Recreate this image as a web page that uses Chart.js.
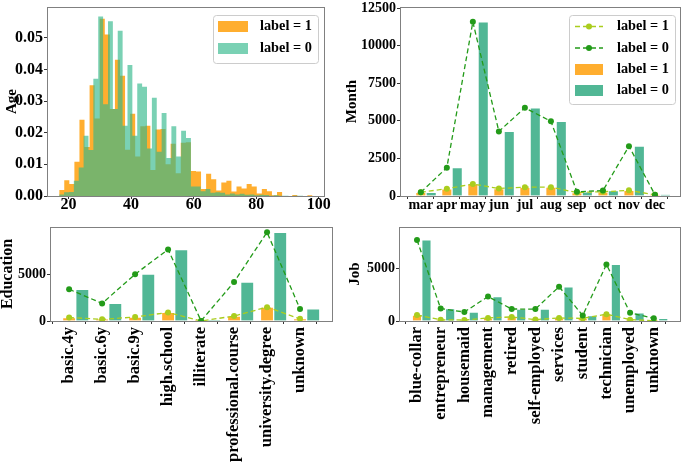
<!DOCTYPE html>
<html>
<head>
<meta charset="utf-8">
<script src="https://cdn.jsdelivr.net/npm/chart.js@4.4.1/dist/chart.umd.min.js"></script>
<style>
  html, body { margin: 0; padding: 0; background: #fff; }
  #wrap { position: relative; width: 685px; height: 466px; }
  #wrap canvas { position: absolute; }
</style>
</head>
<body>
<div id="wrap">
  <canvas id="chartAge" width="340" height="220" style="left:0;top:0"></canvas>
  <canvas id="chartMonth" width="345" height="220" style="left:340px;top:0"></canvas>
  <canvas id="chartEducation" width="340" height="246" style="left:0;top:220px"></canvas>
  <canvas id="chartJob" width="345" height="246" style="left:340px;top:220px"></canvas>
</div>
<script>
// age histogram (density, 50 bins per label)
const ageBinStart = 17;
const ageBinWidthYes = 1.62;   // label = 1 covers 17..98
const ageBinWidthNo = 1.56;    // label = 0 covers 17..95
const ageDensityYes = [
  0.0019, 0.0050, 0.0038, 0.0108, 0.0241, 0.0155, 0.0350, 0.0245, 0.0560, 0.0510,
  0.0275, 0.0430, 0.0380, 0.0146, 0.0260, 0.0125, 0.0220, 0.0222, 0.0082, 0.0210,
  0.0212, 0.0100, 0.0165, 0.0072, 0.0168, 0.0170, 0.0079, 0.0077, 0.0022, 0.0070,
  0.0053, 0.0017, 0.0043, 0.0048, 0.0014, 0.0030, 0.0024, 0.0038, 0.0030, 0.0008,
  0.0022, 0.0015, 0.0002, 0.0013, 0, 0, 0.0003, 0, 0, 0.0002
];
const ageDensityNo = [
  0.0005, 0.0012, 0.0013, 0.0048, 0.0090, 0.0190, 0.0145, 0.0370, 0.0567, 0.0290,
  0.0552, 0.0275, 0.0522, 0.0222, 0.0414, 0.0190, 0.0355, 0.0345, 0.0150, 0.0310,
  0.0140, 0.0262, 0.0120, 0.0220, 0.0125, 0.0206, 0.0183, 0.0030, 0.0030, 0.0015,
  0.0022, 0.0010, 0.0012, 0.0010, 0.0005, 0.0008, 0.0005, 0.0007, 0.0004, 0.0005,
  0.0002, 0.0004, 0.0003, 0.0001, 0.0002, 0.0001, 0.0001, 0, 0.0001, 0.0001
];
const ageTicks = [20, 40, 60, 80, 100];
const densityTicks = [0, 0.01, 0.02, 0.03, 0.04, 0.05];

// month counts
const months = ["mar", "apr", "may", "jun", "jul", "aug", "sep", "oct", "nov", "dec"];
const monthYes = [250, 485, 800, 500, 585, 590, 230, 285, 375, 80];
const monthNo = [245, 1885, 11590, 4300, 5870, 4970, 285, 360, 3315, 85];
const monthTicks = [0, 2500, 5000, 7500, 10000, 12500];

// education counts
const educations = ["basic.4y", "basic.6y", "basic.9y", "high.school", "illiterate",
  "professional.course", "university.degree", "unknown"];
const educationYes = [375, 175, 425, 920, 4, 530, 1490, 230];
const educationNo = [3410, 1890, 5030, 7680, 13, 4180, 9530, 1300];

// job counts
const jobs = ["blue-collar", "entrepreneur", "housemaid", "management", "retired",
  "self-employed", "services", "student", "technician", "unemployed", "unknown"];
const jobYes = [575, 110, 95, 295, 390, 135, 290, 250, 655, 130, 35];
const jobNo = [7760, 1190, 860, 2340, 1150, 1140, 3280, 530, 5420, 780, 260];
const countTicks = [0, 5000];

const ORANGE = "rgba(255,160,10,0.85)";
const TEAL = "rgba(50,185,140,0.65)";
const GREEN = "rgba(50,170,130,0.85)";
const LINE_YES = "rgb(170,205,30)";
const LINE_NO = "rgb(35,155,25)";
const FONT = "'Liberation Serif', 'Times New Roman', serif";

Chart.defaults.font.family = FONT;
Chart.defaults.font.weight = "bold";
Chart.defaults.font.size = 15;
Chart.defaults.color = "#000";
Chart.defaults.animation = false;
Chart.defaults.plugins.legend.display = false;
Chart.defaults.plugins.tooltip.enabled = false;

// legend boxes, canvas coordinates
const legendLayouts = {
  chartAge: { box: [213, 15, 105, 48], rows: [26.5, 48.5], handleX: 218, handleW: 30, textX: 260, items: [0, 1] },
  chartMonth: { box: [229, 15, 106, 89], rows: [26.5, 48, 69.5, 90.5], handleX: 235, handleW: 28, textX: 277, items: [0, 1, 2, 3] }
};

const legendBox = {
  id: "legendBox",
  afterDraw(chart) {
    const lay = legendLayouts[chart.canvas.id];
    if (!lay) return;
    const ctx = chart.ctx;
    const [bx, by, bw, bh] = lay.box;
    ctx.save();
    ctx.beginPath();
    if (ctx.roundRect) ctx.roundRect(bx + 0.5, by + 0.5, bw, bh, 3);
    else ctx.rect(bx + 0.5, by + 0.5, bw, bh);
    ctx.fillStyle = "rgba(255,255,255,0.8)";
    ctx.fill();
    ctx.strokeStyle = "#cccccc";
    ctx.lineWidth = 1;
    ctx.stroke();
    lay.items.forEach((idx, row) => {
      const ds = chart.data.datasets[idx];
      const y = lay.rows[row];
      const x0 = lay.handleX, x1 = lay.handleX + lay.handleW;
      if (ds.type === "line" && !ds.stepped) {
        ctx.setLineDash(ds.borderDash);
        ctx.strokeStyle = ds.borderColor;
        ctx.lineWidth = ds.borderWidth;
        ctx.beginPath();
        ctx.moveTo(x0, y);
        ctx.lineTo(x1, y);
        ctx.stroke();
        ctx.setLineDash([]);
        ctx.fillStyle = ds.pointBackgroundColor;
        ctx.beginPath();
        ctx.arc((x0 + x1) / 2, y, ds.pointRadius, 0, Math.PI * 2);
        ctx.fill();
      } else {
        ctx.fillStyle = ds.backgroundColor;
        ctx.fillRect(x0, y - 5.5, x1 - x0, 11);
      }
      ctx.fillStyle = "#000";
      ctx.font = "bold 14.3px " + FONT;
      ctx.textBaseline = "middle";
      ctx.fillText(ds.label, lay.textX, y);
    });
    ctx.restore();
  }
};

// axes frame (all four spines)
const frame = {
  id: "frame",
  afterDatasetsDraw(chart) {
    const { ctx, chartArea: a } = chart;
    ctx.save();
    ctx.strokeStyle = "#808080";
    ctx.lineWidth = 1;
    ctx.strokeRect(a.left + 0.5, a.top + 0.5, a.right - a.left - 1, a.bottom - a.top);
    ctx.restore();
  }
};

Chart.register(legendBox, frame);

const tickGrid = { drawOnChartArea: false, tickLength: 3, color: "#333", lineWidth: 1 };

const yAxis = (o) => ({
  min: 0,
  max: o.max,
  afterBuildTicks: s => { s.ticks = o.ticks.map(v => ({ value: v })); },
  afterFit: s => { s.width = o.width; s.paddingTop = 0; s.paddingBottom = 0; },
  grid: tickGrid,
  border: { display: false },
  ticks: { padding: 1, font: { size: o.fontSize, lineHeight: 1 }, callback: o.format },
  title: { display: true, text: o.title, font: { size: o.titleSize }, padding: { top: o.titlePad, bottom: 0 } }
});

const xAxis = (o) => ({
  type: "linear",
  min: o.min,
  max: o.max,
  offset: false,
  afterBuildTicks: s => { s.ticks = o.ticks.map(v => ({ value: v })); },
  afterFit: s => { s.height = o.height; s.paddingLeft = 0; s.paddingRight = 0; },
  grid: tickGrid,
  border: { display: false },
  ticks: {
    autoSkip: false,
    minRotation: o.rotation,
    maxRotation: o.rotation,
    padding: o.pad,
    font: { size: o.fontSize, lineHeight: 1 },
    callback: o.format
  }
});

// histogram outline: one step per bin, closed at the last bin edge
const histSteps = (heights, start, width) => {
  const pts = heights.map((y, i) => ({ x: start + width * i, y }));
  pts.push({ x: start + width * heights.length, y: heights[heights.length - 1] });
  return pts;
};

// top left: age histogram
new Chart(document.getElementById("chartAge"), {
  type: "line",
  data: {
    datasets: [
      {
        label: "label = 1",
        data: histSteps(ageDensityYes, ageBinStart, ageBinWidthYes),
        stepped: true,
        fill: "origin",
        backgroundColor: ORANGE,
        borderWidth: 0,
        pointRadius: 0,
        order: 2
      },
      {
        label: "label = 0",
        data: histSteps(ageDensityNo, ageBinStart, ageBinWidthNo),
        stepped: true,
        fill: "origin",
        backgroundColor: TEAL,
        borderWidth: 0,
        pointRadius: 0,
        order: 1
      }
    ]
  },
  options: {
    responsive: false,
    layout: { padding: { left: 0, top: 7, right: 15, bottom: 0 } },
    scales: {
      x: xAxis({ min: 13.1, max: 102, ticks: ageTicks, height: 24, rotation: 0, pad: -2, fontSize: 16, format: v => String(v) }),
      y: yAxis({ max: 0.0597, ticks: densityTicks, width: 47, fontSize: 16, format: v => v.toFixed(2), title: "Age", titleSize: 15, titlePad: 3 })
    }
  }
});

// bar + line chart for a categorical feature
const barLineChart = (id, labels, yes, no, o) => {
  const xs = labels.map((l, i) => i);
  return new Chart(document.getElementById(id), {
    type: "bar",
    data: {
      datasets: [
        {
          type: "line", label: "label = 1",
          data: xs.map((x, i) => ({ x, y: yes[i] })),
          borderColor: LINE_YES, borderWidth: 1.3, borderDash: [5, 3],
          pointBackgroundColor: LINE_YES, pointBorderWidth: 0, pointRadius: 3,
          tension: 0, fill: false, order: 1
        },
        {
          type: "line", label: "label = 0",
          data: xs.map((x, i) => ({ x, y: no[i] })),
          borderColor: LINE_NO, borderWidth: 1.3, borderDash: [5, 3],
          pointBackgroundColor: LINE_NO, pointBorderWidth: 0, pointRadius: 3,
          tension: 0, fill: false, order: 0
        },
        {
          type: "bar", label: "label = 1",
          data: xs.map((x, i) => ({ x, y: yes[i] })),
          backgroundColor: ORANGE, borderColor: "rgba(255,255,255,0.45)", borderWidth: 1, order: 3
        },
        {
          type: "bar", label: "label = 0",
          data: xs.map((x, i) => ({ x: x + 0.4, y: no[i] })),
          backgroundColor: GREEN, borderColor: "rgba(255,255,255,0.45)", borderWidth: 1, order: 2
        }
      ]
    },
    options: {
      responsive: false,
      layout: { padding: { left: 0, top: o.top, right: o.right, bottom: 0 } },
      datasets: { bar: { grouped: false, categoryPercentage: 1, barPercentage: 1 } },
      scales: {
        x: xAxis({
          min: o.xmin, max: o.xmax, ticks: xs, height: o.height,
          rotation: o.rotation, pad: o.pad, fontSize: o.xFont, format: v => labels[v]
        }),
        y: yAxis({
          max: o.ymax, ticks: o.yticks, width: o.width, fontSize: 14,
          format: v => String(v), title: o.title, titleSize: o.titleSize, titlePad: o.titlePad
        })
      }
    }
  });
};

barLineChart("chartMonth", months, monthYes, monthNo, {
  top: 7, right: 4, width: 60, height: 24, xmin: -0.8, xmax: 10.0,
  rotation: 0, pad: -1, xFont: 14, ymax: 12580, yticks: monthTicks,
  title: "Month", titleSize: 15, titlePad: 3.5
});

barLineChart("chartEducation", educations, educationYes, educationNo, {
  top: 7, right: 7, width: 50, height: 145, xmin: -0.58, xmax: 8.0,
  rotation: 90, pad: 3, xFont: 16.5, ymax: 10100, yticks: countTicks,
  title: "Education", titleSize: 16, titlePad: -1.5
});

barLineChart("chartJob", jobs, jobYes, jobNo, {
  top: 7, right: 3, width: 59, height: 145, xmin: -0.76, xmax: 11.15,
  rotation: 90, pad: 3, xFont: 16.5, ymax: 9000, yticks: countTicks,
  title: "Job", titleSize: 15, titlePad: 6
});
</script>
</body>
</html>
